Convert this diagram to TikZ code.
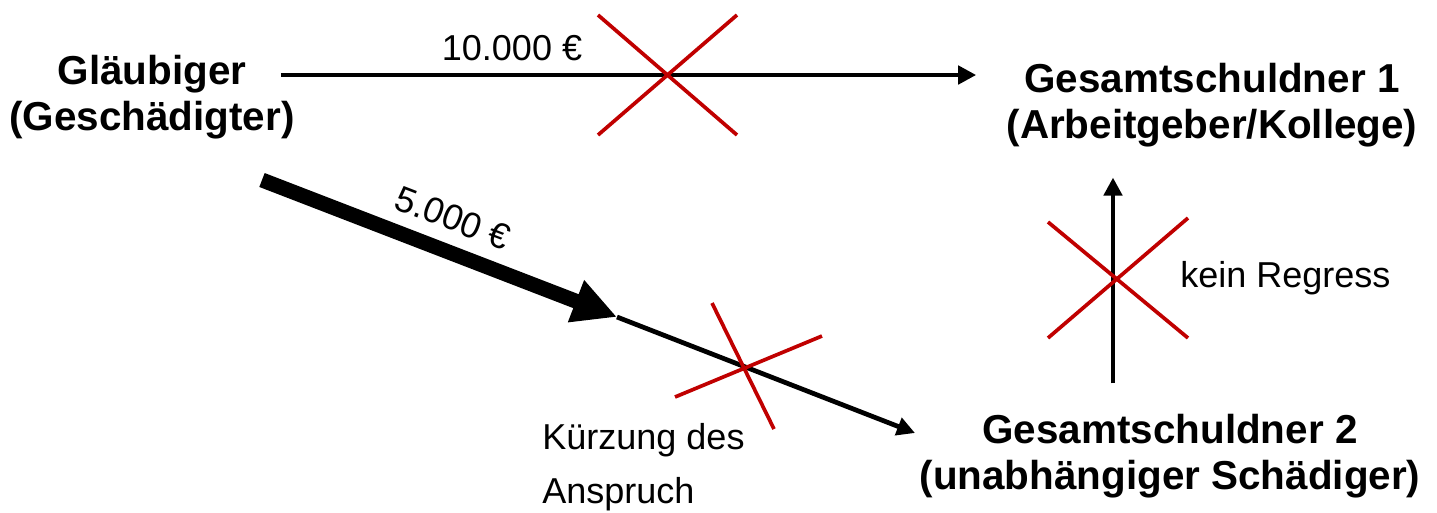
\documentclass[tikz,border=0pt]{standalone}
\usepackage{fontspec}
\setmainfont{Liberation Sans}
\usetikzlibrary{arrows.meta,positioning}
\definecolor{crossred}{HTML}{C00000}

\begin{document}
\begin{tikzpicture}[x=0.02cm, y=-0.02cm,
    every node/.style={font=\fontsize{20.5}{31}\selectfont, inner sep=0pt},
    party/.style={font=\fontsize{23}{26.5}\selectfont\bfseries, align=center},
    claim/.style={line width=2.7pt, -{Triangle[length=0.36cm,width=0.36cm]}},
    bigclaim/.style={line width=8.5pt, -{Triangle[length=0.88cm,width=0.84cm]}},
    strike/.style={crossred, line width=2.1pt},
]
\useasboundingbox (0,0) rectangle (1437,512);

% Parties
\node[party] (glaeubiger) at (152,97) {Gläubiger\\(Geschädigter)};
\node[party] (gs1) at (1212,105) {Gesamtschuldner 1\\(Arbeitgeber/Kollege)};
\node[party] (gs2) at (1170,456) {Gesamtschuldner 2\\(unabhängiger Schädiger)};

% Claim against Gesamtschuldner 1
\draw[claim, shorten <=-8pt, shorten >=0.6cm] (glaeubiger.east |- 0,75) -- (gs1.west |- 0,75);
\node (full) at (512,48) {10.000 €};
\draw[strike] (598,15) -- (737,135) (598,135) -- (737,15);

% Reduced claim against Gesamtschuldner 2
\coordinate (flow start) at (262,180);
\coordinate (cut) at (617,317);
\coordinate (flow end) at (915,433);
\draw[bigclaim] (flow start) -- (cut);
\draw[claim] (cut) -- (flow end);
\node[rotate=-21] (part) at (453,218) {5.000 €};
\draw[strike] (712,303) -- (774,429) (675,397) -- (822,336);
\node[align=left, anchor=west] (cutlabel) at (542,467) {Kürzung des\\Anspruch};

% No recourse
\draw[claim, shorten <=0.6cm, shorten >=0.6cm] (gs2.north -| 1113,0) -- (gs1.south -| 1113,0);
\draw[strike] (1048,222) -- (1188,338) (1048,338) -- (1188,218);
\node[anchor=west] (regress) at (1180,278) {kein Regress};

\end{tikzpicture}
\end{document}
